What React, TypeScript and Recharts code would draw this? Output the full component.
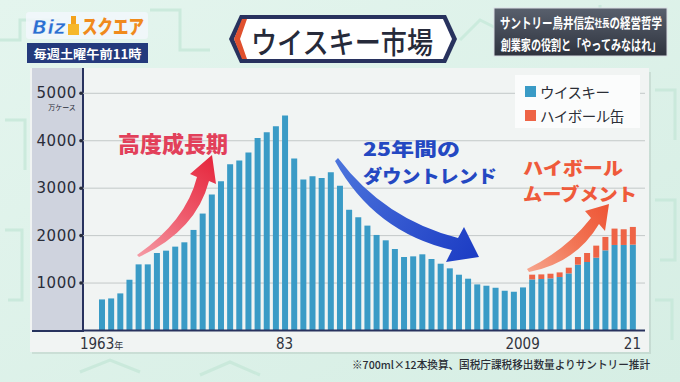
import { BarChart, Bar, XAxis, YAxis, CartesianGrid, Legend } from 'recharts';

const years = [
  1963, 1964, 1965, 1966, 1967, 1968, 1969, 1970, 1971, 1972,
  1973, 1974, 1975, 1976, 1977, 1978, 1979, 1980, 1981, 1982,
  1983, 1984, 1985, 1986, 1987, 1988, 1989, 1990, 1991, 1992,
  1993, 1994, 1995, 1996, 1997, 1998, 1999, 2000, 2001, 2002,
  2003, 2004, 2005, 2006, 2007, 2008, 2009, 2010, 2011, 2012,
  2013, 2014, 2015, 2016, 2017, 2018, 2019, 2020, 2021,
];

// 万ケース
const whisky = [
  655, 676, 782, 1070, 1394, 1394, 1634, 1683, 1768, 1859,
  2120, 2465, 2866, 3148, 3507, 3585, 3750, 4060, 4180, 4305,
  4530, 3625, 3185, 3250, 3215, 3338, 3050, 2545, 2387, 2211,
  2014, 1901, 1718, 1549, 1563, 1606, 1507, 1408, 1310, 1176,
  1092, 972, 944, 901, 838, 817, 908, 1077, 1085, 1099,
  1127, 1204, 1387, 1444, 1535, 1690, 1803, 1803, 1810,
];

const highball = [
  null, null, null, null, null, null, null, null, null, null,
  null, null, null, null, null, null, null, null, null, null,
  null, null, null, null, null, null, null, null, null, null,
  null, null, null, null, null, null, null, null, null, null,
  null, null, null, null, null, null, null, 100, 98, 98,
  98, 120, 162, 190, 254, 282, 345, 331, 373,
];

const yTicks = [1000, 2000, 3000, 4000, 5000];
const labelYears = [1963, 1983, 2009, 2021];
const labelTexts = ['1963', '83', '2009', '21'];

const seriesNames = ['ウイスキー', 'ハイボール缶'];
const BLUE = '#3a9bc6';
const RED = '#ee6446';
const NAVY = '#28325e';
const JP = "'Noto Sans CJK JP', 'Noto Sans CJK SC', sans-serif";
const NARROW = "'Liberation Sans Narrow', 'DejaVu Sans Condensed', Roboto, sans-serif";

const data = years.map((year, i) => ({ year, whisky: whisky[i], highball: highball[i] }));

function XTick(props: any) {
  const { x, payload } = props;
  const idx = labelYears.indexOf(payload.value);
  if (idx < 0) return null;
  return (
    <text x={x} y={349} textAnchor="middle" fontFamily={NARROW} fontSize={15} fill="#30333d">
      {labelTexts[idx]}
      {idx === 0 && <tspan fontSize={9} fontFamily={JP}>年</tspan>}
    </text>
  );
}

function YTick(props: any) {
  const { y, payload } = props;
  return (
    <g>
      <text x={77} y={y} textAnchor="end" dominantBaseline="central" fontFamily="'DejaVu Sans', sans-serif" fontSize={15} letterSpacing={0.6} fill="#2a2d3a">
        {payload.value}
      </text>
      <circle cx={81} cy={y} r={1.8} fill="#2a2d3a" />
      {payload.value === 5000 && (
        <text x={62} y={y + 14} textAnchor="middle" dominantBaseline="central" fontFamily={JP} fontSize={7} fill="#2a2d3a">
          万ケース
        </text>
      )}
    </g>
  );
}

function LegendBox() {
  const colors = [BLUE, RED];
  return (
    <div style={{ background: '#fbfcfc', width: 125, height: 53, boxSizing: 'border-box', padding: '4px 0 0 10px', fontFamily: JP }}>
      {seriesNames.map((name, i) => (
        <div key={name} style={{ display: 'flex', alignItems: 'center', height: 24 }}>
          <div style={{ width: 11, height: 11, background: colors[i], marginRight: 4 }} />
          <span style={{ fontSize: 14.5, color: '#2b2e36', lineHeight: '15px', letterSpacing: -0.5 }}>{name}</span>
        </div>
      ))}
    </div>
  );
}

function Header() {
  return (
    <svg width={680} height={70} style={{ position: 'absolute', left: 0, top: 0 }}>
      {/* logo */}
      <rect x={26} y={12} width={122} height={27} rx={3} fill="#f2f7fb" opacity={0.85} />
      <text x={32} y={34} fontFamily="'DejaVu Sans', sans-serif" fontWeight={700} fontStyle="italic" fontSize={20} fill="#2c6fd1" stroke="#ffffff" strokeWidth={0.6}>
        Biz
      </text>
      <rect x={71} y={16} width={5} height={19} fill="#f3a21c" />
      <rect x={68} y={24} width={11} height={11} fill="#f6b72a" />
      <text x={82} y={34} fontFamily={JP} fontWeight={900} fontSize={19} fill="#f08a1c" textLength={62} lengthAdjust="spacingAndGlyphs">
        スクエア
      </text>
      <rect x={27} y={43} width={121} height={20} fill="#243a7c" />
      <text x={87.5} y={53.5} textAnchor="middle" dominantBaseline="central" fontFamily={JP} fontWeight={700} fontSize={12.5} fill="#ffffff" textLength={108} lengthAdjust="spacingAndGlyphs">
        毎週土曜午前11時
      </text>

      {/* title banner */}
      <polygon points="240,15 446,15 457,39 446,63 240,63 229,39" fill={NAVY} />
      <polygon points="243,19 443,19 452,39 443,59 243,59 234,39" fill="#ffffff" />
      <polygon points="234,39 242,19 247,19 240,39 247,59 242,59" fill="#e0502e" />
      <text x={342} y={40} textAnchor="middle" dominantBaseline="central" fontFamily={JP} fontWeight={500} fontSize={30} fill="#262a3a" textLength={182} lengthAdjust="spacingAndGlyphs">
        ウイスキー市場
      </text>

      {/* right caption */}
      <defs>
        <linearGradient id="capg" x1="0" y1="0" x2="0" y2="1">
          <stop offset="0" stopColor="#59606d" />
          <stop offset="1" stopColor="#2e333e" />
        </linearGradient>
      </defs>
      <rect x={494} y={8} width={173} height={48} fill="url(#capg)" stroke="#d9dde3" strokeWidth={1} />
      <g transform="translate(581,22) scale(0.75,1)">
        <text x={0} y={0} textAnchor="middle" dominantBaseline="central" fontFamily={JP} fontWeight={700} fontSize={14} fill="#ffffff">
          サントリー鳥井信宏<tspan fontSize={10}>社長</tspan>の経営哲学
        </text>
      </g>
      <g transform="translate(581,44) scale(0.72,1)">
        <text x={0} y={0} textAnchor="middle" dominantBaseline="central" fontFamily={JP} fontWeight={700} fontSize={14} fill="#ffffff">
          創業家の役割と「やってみなはれ」
        </text>
      </g>
    </svg>
  );
}

function Annotations() {
  return (
    <svg width={680} height={382} style={{ position: 'absolute', left: 0, top: 0, pointerEvents: 'none' }}>
      <defs>
        <linearGradient id="redA" x1="137" y1="255" x2="212" y2="160" gradientUnits="userSpaceOnUse">
          <stop offset="0" stopColor="#f59aa4" />
          <stop offset="0.5" stopColor="#ee5a6c" />
          <stop offset="1" stopColor="#e6293f" />
        </linearGradient>
        <linearGradient id="blueA" x1="337" y1="160" x2="478" y2="255" gradientUnits="userSpaceOnUse">
          <stop offset="0" stopColor="#4c74dc" />
          <stop offset="1" stopColor="#1c3cc4" />
        </linearGradient>
        <linearGradient id="orA" x1="528" y1="270" x2="608" y2="205" gradientUnits="userSpaceOnUse">
          <stop offset="0" stopColor="#f6a48c" />
          <stop offset="0.5" stopColor="#f27656" />
          <stop offset="1" stopColor="#ee5535" />
        </linearGradient>
      </defs>

      <path d="M137,255 Q186,221 197,177 L190,174 L212,155 L216,184 L209,181 Q196,231 139,257 Z" fill="url(#redA)" />
      <path d="M338,158 Q384,219 458,238 L464,227 L479,257 L446,262 L452,250 Q374,232 335,161 Z" fill="url(#blueA)" />
      <path d="M527,269 Q566,250 591,218 L585,211 L609,204 L605,231 L599,224 Q576,263 529,272 Z" fill="url(#orA)" />

      <text x={173} y={142} textAnchor="middle" dominantBaseline="central" fontFamily={JP} fontWeight={900} fontSize={22} fill="#e2405a" textLength={110} lengthAdjust="spacingAndGlyphs">
        高度成長期
      </text>
      <text x={363} y={148} dominantBaseline="central" fontFamily={JP} fontWeight={900} fontSize={18} fill="#2448c2" textLength={97} lengthAdjust="spacingAndGlyphs">
        25年間の
      </text>
      <text x={363} y={175} dominantBaseline="central" fontFamily={JP} fontWeight={900} fontSize={18} fill="#2448c2" textLength={134} lengthAdjust="spacingAndGlyphs">
        ダウントレンド
      </text>
      <text x={523} y={167} dominantBaseline="central" fontFamily={JP} fontWeight={900} fontSize={18} fill="#ef5a3b" textLength={100} lengthAdjust="spacingAndGlyphs">
        ハイボール
      </text>
      <text x={523} y={193} dominantBaseline="central" fontFamily={JP} fontWeight={900} fontSize={18} fill="#ef5a3b" textLength={114} lengthAdjust="spacingAndGlyphs">
        ムーブメント
      </text>

      <text x={650} y={364} textAnchor="end" dominantBaseline="central" fontFamily={JP} fontWeight={500} fontSize={11} fill="#2b2e36" textLength={298} lengthAdjust="spacingAndGlyphs">
        ※700ml×12本換算、国税庁課税移出数量よりサントリー推計
      </text>
    </svg>
  );
}

function Backdrop() {
  return (
    <svg width={680} height={382} style={{ position: 'absolute', left: 0, top: 0 }}>
      <defs>
        <linearGradient id="bg" x1="0" y1="0" x2="1" y2="1">
          <stop offset="0" stopColor="#e4f5ee" />
          <stop offset="1" stopColor="#d6eee4" />
        </linearGradient>
      </defs>
      <rect width={680} height={382} fill="url(#bg)" />
      <g fill="none" stroke="#c6e8d9" strokeWidth={3} opacity={0.8}>
        <path d="M0,40 L20,40 L20,20 L60,20" />
        <path d="M150,10 L180,10 L180,50 L210,50" />
        <path d="M460,40 L480,20 L500,30" />
        <path d="M655,90 L675,90 L675,140" />
        <path d="M655,200 L675,200 L675,260 L660,260" />
        <path d="M655,300 L672,300 L672,340" />
        <path d="M5,120 L25,120 L25,170" />
        <path d="M5,230 L22,230 L22,300 L8,300" />
        <path d="M80,372 L110,360 L140,372" />
        <path d="M200,375 L230,362 L260,375" />
        <path d="M560,20 L600,20 L600,5" />
      </g>
      <rect x={31} y={70} width={619} height={282} fill="#000" opacity={0.08} transform="translate(1,2)" />
    </svg>
  );
}

export default function App() {
  return (
    <div style={{ position: 'fixed', left: 0, top: 0, width: 680, height: 382, overflow: 'hidden', fontFamily: JP }}>
      <Backdrop />
      <Header />
      {/* chart panel */}
      <div style={{ position: 'absolute', left: 30, top: 68, width: 619, height: 284, background: '#f1f4f3' }} />
      <div style={{ position: 'absolute', left: 32, top: 68, width: 50, height: 262, background: '#cfd3de', borderRight: `2px solid ${NAVY}`, borderBottom: `2px solid ${NAVY}` }} />
      <div style={{ position: 'absolute', left: 0, top: 0 }}>
        <BarChart width={680} height={382} data={data} margin={{ top: 93.3, right: 35, bottom: 0, left: 0 }} barSize={6}>
          <CartesianGrid horizontal vertical={false} stroke="#c3c8c8" strokeWidth={1} />
          <XAxis
            dataKey="year"
            interval={0}
            height={51.5}
            tick={<XTick />}
            tickLine={false}
            axisLine={{ stroke: NAVY, strokeWidth: 2 }}
            padding={{ left: 14, right: 8 }}
          />
          <YAxis
            domain={[0, 5000]}
            ticks={yTicks}
            width={83}
            tick={<YTick />}
            tickLine={false}
            axisLine={false}
          />
          <Legend
            layout="horizontal"
            verticalAlign="middle"
            align="center"
            content={<LegendBox />}
            wrapperStyle={{ left: 515, top: 75, width: 125, right: 'auto', bottom: 'auto' }}
          />
          <Bar dataKey="whisky" name={seriesNames[0]} stackId="a" fill={BLUE} isAnimationActive={false} />
          <Bar dataKey="highball" name={seriesNames[1]} stackId="a" fill={RED} isAnimationActive={false} />
        </BarChart>
      </div>
      <Annotations />
    </div>
  );
}
